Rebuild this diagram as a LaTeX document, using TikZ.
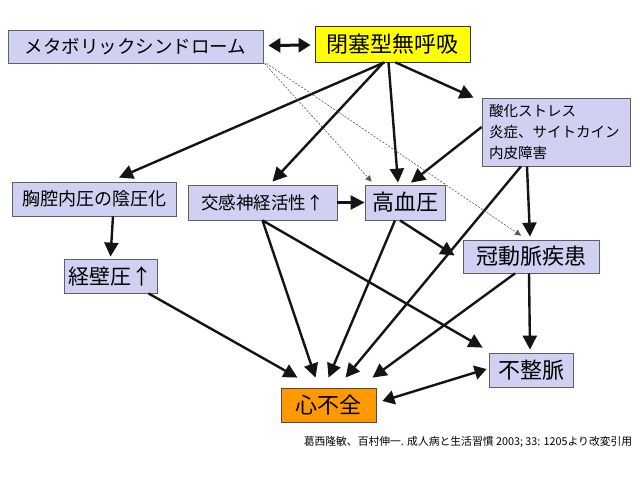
\documentclass[tikz,border=0pt]{standalone}
\usepackage{fontspec}
\setmainfont{Noto Sans CJK JP}
\usetikzlibrary{arrows.meta,calc}
\definecolor{boxfill}{RGB}{208,208,242}
\definecolor{boxline}{RGB}{95,95,105}
\definecolor{hforange}{RGB}{255,153,0}
\definecolor{osayellow}{RGB}{255,255,0}
\definecolor{lineblack}{RGB}{20,20,20}
\tikzset{
  box/.style={draw=boxline, line width=0.8pt, fill=boxfill, inner sep=0pt, anchor=center},
  fsA/.style={font=\fontsize{21}{24}\selectfont},
  fsB/.style={font=\fontsize{18}{21}\selectfont},
  fsC/.style={font=\fontsize{14.5}{21}\selectfont},
  fsD/.style={font=\fontsize{17.5}{20}\selectfont},
  conn/.style={line width=2.4pt, draw=lineblack, -{Triangle[length=14pt,width=14pt]}},
  dconn/.style={line width=0.6pt, draw=gray!70!black, dash pattern=on 2pt off 1.5pt, -{Triangle[length=6pt,width=6pt]}},
  biconn/.style={line width=3pt, draw=lineblack, {Triangle[length=12pt,width=14pt]}-{Triangle[length=12pt,width=14pt]}}
}
\begin{document}
\begin{tikzpicture}[x=1pt,y=-1pt]
\useasboundingbox[fill=white] (0,0) rectangle (640,480);
% nodes
\node[box, fsB, minimum width=255pt, minimum height=33pt, font=\fontsize{18.5}{21}\selectfont] (meta) at (135.5,46.5) {メタボリックシンドローム};
\node[box, fsA, fill=osayellow, draw=black!80, minimum width=155pt, minimum height=36pt, font=\fontsize{22}{24}\selectfont] (osa) at (392.5,44) {閉塞型無呼吸};
\node[box, fsC, minimum height=68pt, text width=134pt, inner xsep=7pt, align=left] (ox) at (556,132) {酸化ストレス\\炎症、サイトカイン\\内皮障害};
\node[box, fsB, minimum width=164pt, minimum height=34pt] (chest) at (94,199) {胸腔内圧の陰圧化};
\node[box, fsA, minimum width=93pt, minimum height=34pt] (trans) at (110.5,276) {経壁圧↑};
\node[box, fsD, minimum width=149pt, minimum height=35pt] (symp) at (262.5,202.5) {交感神経活性↑};
\node[box, fsA, minimum width=80pt, minimum height=35pt, font=\fontsize{22}{24}\selectfont] (htn) at (405,202.5) {高血圧};
\node[box, fsA, minimum width=136pt, minimum height=33pt, font=\fontsize{22}{24}\selectfont] (cad) at (531,256.5) {冠動脈疾患};
\node[box, fsA, minimum width=84pt, minimum height=34pt, font=\fontsize{22}{24}\selectfont] (arr) at (531,370) {不整脈};
\node[box, fsA, fill=hforange, draw=black!70, minimum width=95pt, minimum height=34pt, font=\fontsize{22}{24}\selectfont] (hf) at (328.5,405) {心不全};
\node[font=\fontsize{10.8}{12}\selectfont, inner sep=0pt] (cite) at (468,442) {葛西隆敏、百村伸一. 成人病と生活習慣 2003; 33: 1205より改変引用};
% connectors
\draw[biconn] ($(meta.east)+(5,-1)$) -- ($(osa.west)+(-4,1)$);
\draw[conn] ($(osa.south)+(-8,0)$) -- ($(chest.north)+(25,-4)$);
\draw[conn] ($(osa.south)+(-9,0)$) -- ($(symp.north)+(10,-3)$);
\draw[conn] ($(osa.south)+(-4,0)$) -- ($(htn.north)+(-7,-2)$);
\draw[conn] ($(osa.south)+(3,0)$) -- ($(ox.north west)+(-8,0)$);
\draw[conn] ($(ox.west)+(0,-5)$) -- ($(htn.north)+(6,-2)$);
\draw[conn] ($(ox.south)+(-29,0)$) -- ($(cad.north)+(-1,-3)$);
\draw[conn] ($(ox.south)+(-35,0)$) -- ($(hf.north)+(17,-10)$);
\draw[conn] (symp.east) -- (htn.west);
\draw[conn] (symp.south) -- ($(hf.north)+(-13,-10)$);
\draw[conn] (symp.south) -- ($(arr.north west)+(-6,-5)$);
\draw[conn] ($(htn.south)+(-10,0)$) -- ($(hf.north)+(0,-10)$);
\draw[conn] ($(htn.south)+(-5,0)$) -- ($(cad.west)+(-8,-1)$);
\draw[conn] ($(cad.south)+(-16,0)$) -- ($(hf.north)+(44,-10)$);
\draw[conn] ($(cad.south)+(-2,0)$) -- ($(arr.north)+(-1,-3)$);
\draw[conn] ($(chest.south)+(19,0)$) -- ($(trans.north)+(0,-2)$);
\draw[conn] ($(trans.south)+(38,0)$) -- ($(hf.north)+(-31,-10)$);
\draw[biconn, line width=2.4pt] ($(hf.east)+(6,-4)$) -- ($(arr.west)+(-2,-1)$);
\draw[dconn] ($(meta.south east)+(1,0)$) -- ($(htn.north west)+(7,-3)$);
\draw[dconn] ($(meta.south east)+(3,0)$) -- ($(cad.north)+(-10,-4)$);
\end{tikzpicture}
\end{document}
